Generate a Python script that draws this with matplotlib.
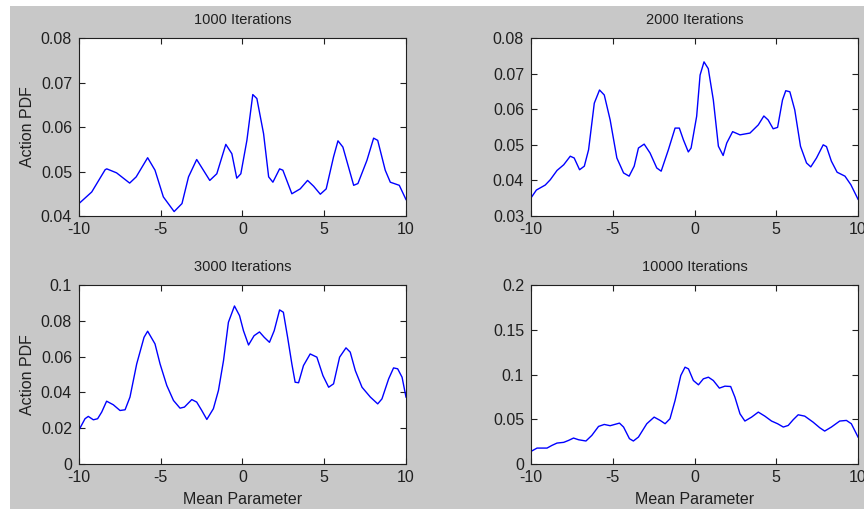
import numpy as np
import matplotlib.pyplot as plt
from matplotlib.patches import Rectangle
from matplotlib.ticker import FuncFormatter

plt.rcParams['font.family'] = ['Liberation Sans', 'DejaVu Sans']
plt.rcParams['axes.unicode_minus'] = False

# 1000 iterations
x1 = [-10, -9.22, -8.4, -8.3, -7.7, -6.9, -6.5, -5.8, -5.35, -4.84, -4.18, -3.7, -3.3,
      -2.8, -2.0, -1.57, -1.02, -0.65, -0.35, -0.1, 0.27, 0.63, 0.88, 1.29, 1.6, 1.86,
      2.27, 2.47, 3.02, 3.53, 3.98, 4.35, 4.76, 5.12, 5.57, 5.84, 6.14, 6.8, 7.06, 7.61,
      8.02, 8.27, 8.73, 9.04, 9.59, 10]
y1 = [0.0428, 0.0454, 0.0504, 0.0506, 0.0497, 0.0474, 0.0488, 0.0531, 0.0503, 0.0443,
      0.0410, 0.0428, 0.0488, 0.0527, 0.0480, 0.0495, 0.0561, 0.0540, 0.0485, 0.0495,
      0.0570, 0.0673, 0.0664, 0.0585, 0.0488, 0.0476, 0.0506, 0.0503, 0.0450, 0.0461,
      0.0480, 0.0467, 0.0449, 0.0461, 0.0533, 0.0569, 0.0555, 0.0469, 0.0473, 0.0525,
      0.0575, 0.0570, 0.0503, 0.0476, 0.0469, 0.0437]

# 2000 iterations
x2 = [-10, -9.67, -9.13, -8.82, -8.41, -8.0, -7.6, -7.36, -7.03, -6.74, -6.48, -6.13,
      -5.81, -5.52, -5.16, -4.75, -4.34, -4.0, -3.69, -3.43, -3.08, -2.72, -2.31, -2.04,
      -1.6, -1.19, -0.93, -0.68, -0.38, -0.21, 0.13, 0.34, 0.58, 0.84, 1.15, 1.46, 1.75,
      1.97, 2.33, 2.78, 3.39, 3.9, 4.24, 4.5, 4.81, 5.08, 5.38, 5.58, 5.83, 6.13, 6.48,
      6.85, 7.11, 7.46, 7.87, 8.07, 8.37, 8.72, 9.2, 9.56, 10]
y2 = [0.0351, 0.0373, 0.0387, 0.0402, 0.0428, 0.0444, 0.0468, 0.0463, 0.0430, 0.0440,
      0.0486, 0.0617, 0.0654, 0.0640, 0.0570, 0.0463, 0.0421, 0.0412, 0.0440, 0.0491,
      0.0502, 0.0477, 0.0435, 0.0426, 0.0486, 0.0547, 0.0547, 0.0514, 0.0480, 0.0491,
      0.0580, 0.0696, 0.0733, 0.0714, 0.0626, 0.0496, 0.0470, 0.0505, 0.0537, 0.0528,
      0.0533, 0.0556, 0.0581, 0.0570, 0.0545, 0.0549, 0.0626, 0.0652, 0.0649, 0.0598,
      0.0496, 0.0449, 0.0438, 0.0463, 0.0500, 0.0495, 0.0454, 0.0423, 0.0412, 0.0388,
      0.0347]

# 3000 iterations
x3 = [-10, -9.63, -9.43, -9.12, -8.86, -8.61, -8.31, -7.9, -7.49, -7.18, -6.88, -6.47,
      -6.02, -5.8, -5.35, -5.04, -4.63, -4.22, -3.82, -3.55, -3.1, -2.8, -2.49, -2.18,
      -1.78, -1.47, -1.16, -0.86, -0.49, -0.18, 0.06, 0.37, 0.71, 1.04, 1.33, 1.65, 1.94,
      2.27, 2.5, 2.76, 3.02, 3.22, 3.43, 3.73, 4.14, 4.55, 4.92, 5.27, 5.57, 5.94, 6.33,
      6.59, 6.9, 7.31, 7.82, 8.27, 8.53, 8.94, 9.24, 9.49, 9.76, 10]
y3 = [0.0190, 0.0253, 0.0266, 0.0247, 0.0253, 0.0290, 0.0351, 0.0331, 0.0299, 0.0303,
      0.0374, 0.0559, 0.0708, 0.0742, 0.0671, 0.0559, 0.0439, 0.0355, 0.0312, 0.0318,
      0.0360, 0.0346, 0.0299, 0.0249, 0.0309, 0.0411, 0.0578, 0.0792, 0.0883, 0.0829,
      0.0745, 0.0665, 0.0717, 0.0738, 0.0708, 0.0680, 0.0745, 0.0861, 0.0848, 0.0708,
      0.0559, 0.0457, 0.0454, 0.0550, 0.0615, 0.0597, 0.0494, 0.0429, 0.0448, 0.0597,
      0.0649, 0.0625, 0.0522, 0.0429, 0.0374, 0.0336, 0.0364, 0.0476, 0.0537, 0.0532,
      0.0485, 0.0374]

# 10000 iterations
x4 = [-10, -9.63, -9.02, -8.72, -8.41, -8.0, -7.7, -7.4, -7.09, -6.64, -6.28, -5.87,
      -5.52, -5.16, -4.59, -4.34, -3.98, -3.74, -3.43, -2.92, -2.47, -2.1, -1.8, -1.5,
      -1.19, -0.84, -0.58, -0.37, -0.07, 0.24, 0.54, 0.85, 1.15, 1.52, 1.86, 2.21, 2.47,
      2.78, 3.08, 3.49, 3.9, 4.3, 4.71, 5.08, 5.43, 5.73, 6.03, 6.34, 6.74, 7.25, 7.66,
      7.96, 8.37, 8.88, 9.29, 9.59, 10]
y4 = [0.0141, 0.0178, 0.0178, 0.0208, 0.0234, 0.0242, 0.0264, 0.0290, 0.0271, 0.0257,
      0.0320, 0.0420, 0.0442, 0.0428, 0.0457, 0.0413, 0.0283, 0.0257, 0.0301, 0.0450,
      0.0524, 0.0487, 0.0450, 0.0506, 0.0710, 0.0989, 0.1082, 0.1063, 0.0933, 0.0885,
      0.0952, 0.0970, 0.0933, 0.0848, 0.0870, 0.0866, 0.0747, 0.0561, 0.0480, 0.0524,
      0.0580, 0.0535, 0.0480, 0.0450, 0.0413, 0.0431, 0.0494, 0.0550, 0.0535, 0.0468,
      0.0405, 0.0368, 0.0413, 0.0480, 0.0487, 0.0450, 0.0301]

titles = ['1000 Iterations', '2000 Iterations', '3000 Iterations', '10000 Iterations']
ylims = [(0.04, 0.08), (0.03, 0.08), (0, 0.1), (0, 0.2)]
yticks = [[0.04, 0.05, 0.06, 0.07, 0.08],
          [0.03, 0.04, 0.05, 0.06, 0.07, 0.08],
          [0, 0.02, 0.04, 0.06, 0.08, 0.1],
          [0, 0.05, 0.1, 0.15, 0.2]]
xticks = [-10, -5, 0, 5, 10]

fig = plt.figure(figsize=(8.64, 5.09), dpi=100, facecolor='white')
fig.patches.append(Rectangle((10 / 864, 0), 1, 1 - 6 / 509, transform=fig.transFigure,
                             facecolor='#c8c8c8', edgecolor='none', zorder=-10))

boxes = [[0.0914, 0.5756, 0.3785, 0.3497],
         [0.6146, 0.5756, 0.3785, 0.3497],
         [0.0914, 0.0884, 0.3785, 0.3516],
         [0.6146, 0.0884, 0.3785, 0.3516]]
data = [(x1, y1), (x2, y2), (x3, y3), (x4, y4)]

fmt = FuncFormatter(lambda v, p: '%g' % round(v, 4))

for i, (xs, ys) in enumerate(data):
    ax = fig.add_axes(boxes[i])
    ax.plot(xs, ys, color='#0000ff', lw=1.0)
    ax.set_xlim(-10, 10)
    ax.set_ylim(*ylims[i])
    ax.set_xticks(xticks)
    ax.set_yticks(yticks[i])
    ax.yaxis.set_major_formatter(fmt)
    ax.tick_params(direction='in', top=True, right=True, length=4, width=0.8,
                   labelsize=11.5, colors='#202020', pad=5)
    ax.tick_params(axis='x', pad=4)
    for s in ax.spines.values():
        s.set_color('#202020')
        s.set_linewidth(0.8)
    ax.set_title(titles[i], fontsize=10.5, pad=10, color='#202020')
    if i % 2 == 0:
        ax.set_ylabel('Action PDF', fontsize=11.5, color='#202020', labelpad=4)
    if i >= 2:
        ax.set_xlabel('Mean Parameter', fontsize=11.5, color='#202020', labelpad=5)

fig.savefig('out.png', dpi=100, facecolor=fig.get_facecolor())
